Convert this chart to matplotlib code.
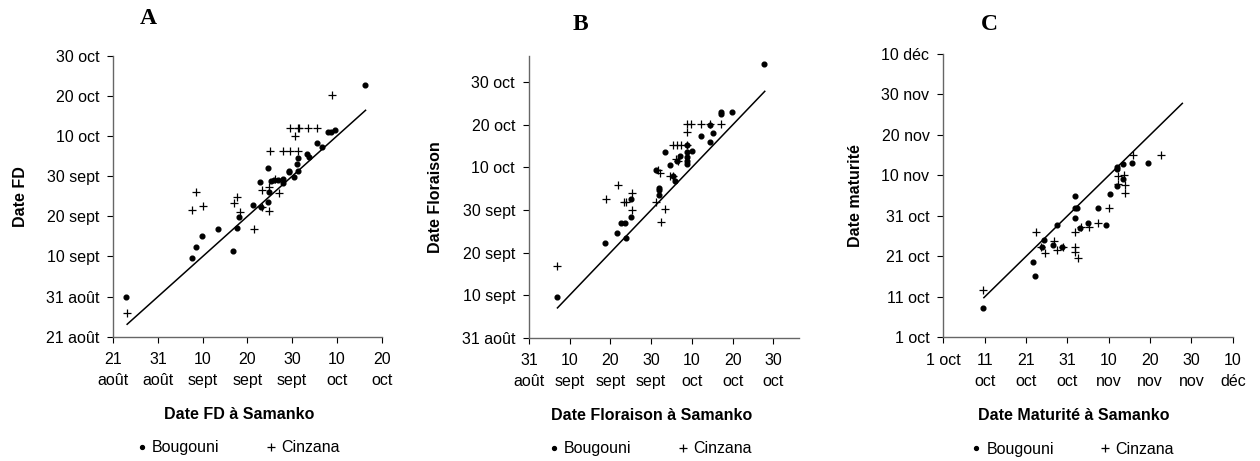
import datetime
import matplotlib
matplotlib.use('Agg')
import matplotlib.pyplot as plt
from matplotlib.lines import Line2D

# Dates are stored as day numbers counted from 31 July (1 = 1 Aug, 62 = 1 Oct)
ORIGIN = datetime.date(2000, 7, 31)
MONTHS = {8: 'août', 9: 'sept', 10: 'oct', 11: 'nov', 12: 'déc'}

# Panel A - date FD
a_boug_x = [23.8, 38.6, 39.4, 40.8, 44.4, 47.8, 48.6, 49.2, 52.2, 53.9, 54.0, 55.6, 55.7, 55.9, 56.2, 57.0, 57.9,
            58.9, 58.9, 60.3, 60.3, 61.4, 62.1, 62.2, 62.4, 64.4, 64.7, 66.5, 67.7, 68.9, 69.7, 70.6, 77.3]
a_boug_y = [31.0, 40.7, 43.4, 46.0, 47.8, 42.3, 48.2, 50.9, 53.8, 59.6, 53.3, 63.1, 54.5, 57.1, 59.7, 60.0, 60.0,
            60.3, 59.4, 62.4, 62.0, 60.9, 64.0, 65.5, 62.3, 66.5, 65.8, 69.2, 68.3, 72.0, 72.0, 72.6, 83.8]
a_cinz_x = [24.0, 38.7, 39.6, 41.0, 48.0, 48.7, 49.3, 52.4, 54.2, 54.2, 55.9, 55.9, 56.0, 57.2, 58.1, 59.0, 60.5,
            60.6, 61.6, 62.3, 62.5, 62.4, 64.6, 66.6, 69.9]
a_cinz_y = [27.0, 52.6, 57.0, 53.6, 54.2, 55.9, 52.1, 47.8, 57.5, 53.2, 52.4, 58.4, 67.2, 60.2, 56.9, 67.2, 67.2,
            73.1, 71.0, 73.1, 73.1, 67.2, 73.1, 73.1, 81.1]
a_line = [24.1, 77.4]

# Panel B - date floraison
b_boug_x = [37.8, 49.7, 52.7, 53.6, 54.6, 54.8, 56.1, 56.1, 62.1, 63.0, 63.0, 63.0, 64.3, 65.6, 66.4, 66.8, 67.4,
            68.1, 69.9, 69.9, 69.9, 69.9, 69.9, 71.1, 73.2, 75.4, 75.4, 76.3, 78.1, 78.1, 80.8, 88.8]
b_boug_y = [40.5, 53.3, 55.6, 58.0, 58.0, 54.4, 59.4, 63.7, 70.5, 66.2, 65.6, 64.6, 74.6, 71.6, 69.0, 67.8, 72.6,
            73.7, 76.4, 74.6, 73.4, 72.6, 71.9, 74.8, 78.3, 77.1, 81.1, 79.1, 84.1, 83.6, 84.1, 95.4]
b_cinz_x = [38.0, 49.8, 52.8, 54.3, 54.8, 56.3, 56.3, 62.1, 62.8, 63.1, 63.4, 64.4, 65.6, 66.3, 66.3, 67.3, 68.3,
            67.0, 67.7, 69.9, 69.9, 69.9, 70.8, 73.2, 75.4, 78.1]
b_cinz_y = [47.9, 63.7, 66.9, 63.0, 63.0, 65.1, 61.1, 62.9, 70.5, 69.8, 58.2, 61.2, 69.1, 69.0, 76.2, 76.2, 76.2,
            72.9, 72.6, 76.2, 79.3, 81.2, 81.2, 81.2, 81.2, 81.2]
b_line = [38.0, 88.9]

# Panel C - date maturite
c_boug_x = [71.6, 83.6, 84.2, 85.9, 86.3, 88.4, 89.6, 90.8, 93.8, 93.8, 94.4, 93.8, 95.1, 97.1, 99.5, 102.3, 101.4,
            103.9, 103.9, 104.1, 105.4, 105.5, 107.6, 111.5]
c_boug_y = [69.2, 80.5, 77.1, 84.4, 86.0, 84.8, 89.7, 84.4, 96.8, 94.0, 94.0, 91.6, 88.9, 90.3, 94.0, 97.3, 89.7,
            104.2, 103.5, 99.4, 104.8, 101.0, 105.1, 105.1]
c_cinz_x = [71.6, 84.3, 85.7, 86.5, 88.7, 89.6, 90.9, 93.8, 93.9, 93.9, 94.6, 95.3, 97.3, 99.5, 102.1, 104.2, 105.8,
            104.2, 105.9, 105.9, 107.8, 114.7]
c_cinz_y = [73.7, 87.9, 84.4, 82.8, 85.8, 83.6, 84.2, 88.0, 84.2, 83.0, 81.5, 89.2, 89.2, 90.3, 94.0, 101.9, 102.0,
            99.8, 99.6, 97.7, 107.1, 107.1]
c_line = [71.8, 119.8]

a_ticks = [21, 31, 41, 51, 61, 71, 81, 91]
b_ticks = [31, 41, 51, 61, 71, 81, 91]
c_ticks = [62, 72, 82, 92, 102, 112, 122, 132]


def day_label(d, sep):
    dt = ORIGIN + datetime.timedelta(days=d)
    return f'{dt.day}{sep}{MONTHS[dt.month]}'


plt.rcParams['font.family'] = ['Liberation Sans', 'DejaVu Sans']

fig = plt.figure(figsize=(12.6, 4.61), dpi=100)

panels = [
    # letter, rect, data, xlim, ylim, xticks, yticks, labels, label x pos, ylabel x pos, title pos
    ('A', [0.0899, 0.2696, 0.2130, 0.6096], (a_boug_x, a_boug_y, a_cinz_x, a_cinz_y, a_line),
     (21, 81), (21, 91), a_ticks[:-1], a_ticks, 'Date FD à Samanko', 'Date FD', 0.471, -0.318, (148, 18)),
    ('B', [0.4198, 0.2675, 0.2143, 0.6110], (b_boug_x, b_boug_y, b_cinz_x, b_cinz_y, b_line),
     (31, 97.3), (31, 97.2), b_ticks, b_ticks, 'Date Floraison à Samanko', 'Date Floraison', 0.454, -0.318,
     (580, 25)),
    ('C', [0.7487, 0.2683, 0.2297, 0.6146], (c_boug_x, c_boug_y, c_cinz_x, c_cinz_y, c_line),
     (62, 132), (62, 132), c_ticks, c_ticks, 'Date Maturité à Samanko', 'Date maturité', 0.452, -0.277,
     (989, 25)),
]

for letter, rect, data, xlim, ylim, xt, yt, xlab, ylab, xlab_x, ylab_x, tpos in panels:
    bx, by, cx, cy, ln = data
    ax = fig.add_axes(rect)
    ax.plot(ln, ln, color='black', lw=1.1, zorder=2)
    ax.plot(bx, by, 'o', color='black', ms=3.4, ls='none', zorder=3)
    ax.plot(cx, cy, '+', color='black', ms=6, mew=0.9, ls='none', zorder=3)
    ax.set_xlim(*xlim)
    ax.set_ylim(*ylim)

    ax.set_xticks(xt)
    xl = [day_label(d, '\n') for d in xt]
    if letter == 'C':
        xl[0] = day_label(xt[0], ' ')
    ax.set_xticklabels(xl, linespacing=1.5)
    ax.set_yticks(yt)
    ax.set_yticklabels([day_label(d, ' ') for d in yt])
    ax.tick_params(axis='both', direction='out', length=4, width=0.8, labelsize=11.5, color='black')
    ax.tick_params(axis='x', pad=7)
    ax.tick_params(axis='y', pad=6)

    for side in ['top', 'right']:
        ax.spines[side].set_visible(False)
    for side in ['left', 'bottom']:
        ax.spines[side].set_color('#666666')
        ax.spines[side].set_linewidth(1.0)

    ax.set_xlabel(xlab, fontsize=11.5, fontweight='bold')
    ax.xaxis.set_label_coords(xlab_x, -0.25)
    ax.set_ylabel(ylab, fontsize=11.5, fontweight='bold')
    ax.yaxis.set_label_coords(ylab_x, 0.5)

    # legend under the x label
    handles = [Line2D([], [], marker='o', color='black', ms=2.8, ls='none'),
               Line2D([], [], marker='+', color='black', ms=5.5, mew=0.9, ls='none')]
    ax.legend(handles, ['Bougouni', 'Cinzana'], loc='center', bbox_to_anchor=(xlab_x - 0.005, -0.395),
              ncol=2, frameon=False, fontsize=11.5, handlelength=0.6, handletextpad=0.35, columnspacing=2.9)

    fig.text(tpos[0] / 1260, 1 - tpos[1] / 461, letter, fontsize=17, fontweight='bold',
             family='Liberation Serif', ha='center', va='center')

fig.savefig('out.png', dpi=100)
